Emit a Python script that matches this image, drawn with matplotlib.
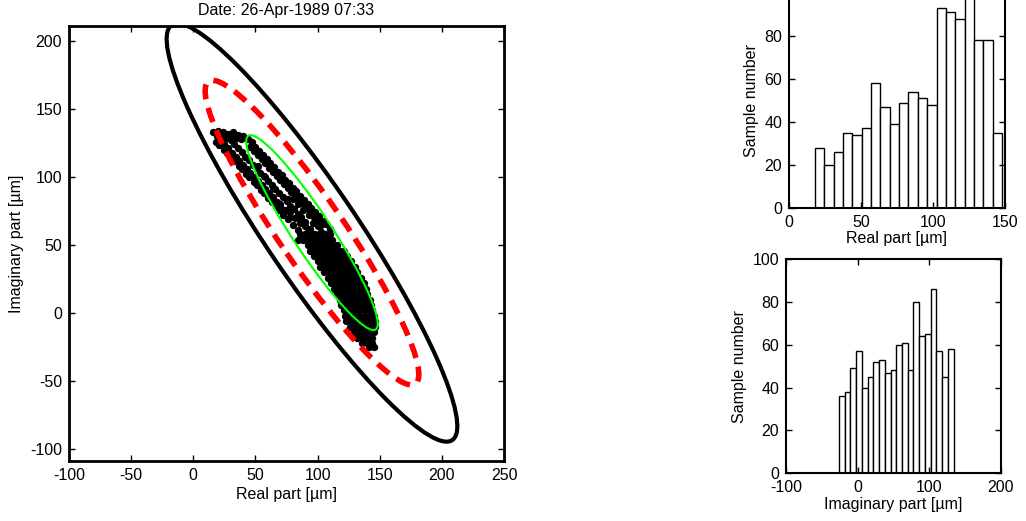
import numpy as np
import matplotlib
matplotlib.use("Agg")
import matplotlib.pyplot as plt
from matplotlib.patches import Ellipse

plt.rcParams['font.family'] = ['Liberation Sans', 'DejaVu Sans']
plt.rcParams['axes.unicode_minus'] = False
FS = 11.5

# ---------------- data ----------------
title_text = "Date: 26-Apr-1989 07:33"

# scatter cloud (real, imaginary) in micrometres
cloud_top_x = [16, 20, 24, 28, 32, 36, 40, 43, 19, 26, 34, 22, 30, 38]
cloud_top_y = [133, 134, 133, 132, 133, 131, 130, 128, 130, 129, 129, 131, 130, 128]

streak_l_x = [18, 21, 24.5, 27, 30.5, 33, 36.5, 39, 42.5, 45, 48.5, 51, 54.5, 57, 60.5, 63,
              66.5, 69, 72.5, 76, 80, 84, 88]
streak_l_y = [126, 123.5, 120, 118, 114.5, 112, 108.5, 106, 102.5, 100, 96.5, 94, 90.5, 88,
              84.5, 82, 78.5, 76, 72.5, 69, 65, 61, 57]

streak_l2_x = [22, 25, 28, 31, 34, 37, 40, 43, 46, 49, 52, 55, 58, 61, 64, 67, 70, 74, 78]
streak_l2_y = [127, 124, 121, 118, 115, 112, 109, 106, 103, 100, 97, 94, 91, 88, 85, 82, 79,
               75, 71]

streak_m_x = [30, 33, 36, 39, 42, 45, 48, 51, 54, 57, 60, 63, 66, 69, 72, 75, 78, 81, 84, 87, 90]
streak_m_y = [127, 124.5, 121, 118.5, 115, 112.5, 109, 106.5, 103, 100.5, 97, 94.5, 91, 88.5,
              85, 82.5, 79, 76.5, 73, 70.5, 67]

streak_r_x = [44, 47, 50, 53, 56, 59, 62, 65, 68, 71, 74, 77, 80, 83, 86, 89, 92, 95, 98, 101,
              104, 107, 110]
streak_r_y = [128, 125.5, 122, 119.5, 116, 113.5, 110, 107.5, 104, 101.5, 98, 95.5, 92, 89.5,
              86, 83.5, 80, 77.5, 74, 71.5, 68, 65.5, 62]

streak_r2_x = [46, 49, 52, 55, 58, 61, 64, 67, 70, 73, 76, 79, 82, 85, 88, 91, 94, 97, 100, 103]
streak_r2_y = [122, 119, 116, 113, 110, 107, 104, 101, 98, 95, 92, 89, 86, 83, 80, 77, 74, 71,
               68, 65]

fill_x = [70, 74, 78, 82, 86, 90, 94, 96, 100, 99, 93, 88, 84, 80, 86, 92, 97, 103, 76, 64, 58, 52]
fill_y = [80, 76, 74, 70, 66, 64, 62, 66, 64, 70, 72, 76, 80, 84, 70, 60, 58, 60, 84, 92, 100, 108]

dense_rows = [
    (58, [86, 90, 94, 98, 102, 106, 110]),
    (54, [84, 88, 92, 96, 100, 104, 108, 112]),
    (50, [92, 96, 100, 104, 108, 112, 116]),
    (46, [94, 98, 102, 106, 110, 114, 118, 121]),
    (42, [97, 101, 105, 109, 113, 117, 121, 124]),
    (38, [100, 104, 108, 112, 116, 120, 124, 127]),
    (34, [102, 106, 110, 114, 118, 122, 126, 130]),
    (30, [105, 109, 113, 117, 121, 125, 129, 132]),
    (26, [108, 112, 116, 120, 124, 128, 132, 135]),
    (22, [111, 115, 119, 123, 127, 131, 135, 137]),
    (18, [113, 117, 121, 125, 129, 133, 137, 139]),
    (14, [116, 120, 124, 128, 132, 136, 140]),
    (10, [118, 122, 126, 130, 134, 138, 142]),
    (6, [119, 123, 127, 131, 135, 139, 143]),
    (2, [121, 125, 129, 133, 137, 141, 144]),
    (-2, [122, 126, 130, 134, 138, 142, 145]),
    (-6, [123, 127, 131, 135, 139, 143, 146]),
    (-10, [126, 130, 134, 138, 142, 146]),
    (-14, [129, 133, 137, 141, 145]),
    (-18, [132, 136, 140, 144]),
    (-22, [136, 140, 144]),
    (-25, [141, 145]),
]

# ellipses: centre, semi-major, semi-minor, angle (deg)
ell_center = (95.5, 59.2)
ell_black = (189.7, 35.8, -53.3)
ell_red = (138.8, 25.4, -53.0)
ell_green = (87.7, 15.3, -54.1)

# histograms
real_counts = [28, 20, 26, 35, 34, 37, 58, 47, 39, 49, 54, 51, 48, 93, 91, 88, 100, 78, 78, 35]
real_range = (18.1, 148.1)
imag_counts = [36, 38, 49, 57, 40, 45, 52, 53, 47, 48, 60, 61, 48, 80, 64, 65, 86, 57, 45, 58]
imag_range = (-25.9, 134.1)

# ---------------- figure ----------------
fig = plt.figure(figsize=(10.26, 5.21), dpi=100)

def style(ax, lw):
    for s in ax.spines.values():
        s.set_linewidth(lw)
    ax.tick_params(direction='in', top=True, right=True, length=4, width=1,
                   labelsize=FS, pad=5)

ax = fig.add_axes([69/1026, 1-461/521, 435/1026, 435/521])
cx = (list(cloud_top_x) + streak_l_x + streak_l2_x + streak_m_x + streak_r_x + streak_r2_x
      + fill_x)
cy = (list(cloud_top_y) + streak_l_y + streak_l2_y + streak_m_y + streak_r_y + streak_r2_y
      + fill_y)
for yv, xs in dense_rows:
    cx += xs
    cy += [yv] * len(xs)
ax.plot(cx, cy, 'o', ms=5.3, color='black', mew=0, zorder=2)

a, b, ang = ell_black
ax.add_patch(Ellipse(ell_center, 2*a, 2*b, angle=ang, fill=False, ec='black', lw=3, zorder=3))
a, b, ang = ell_red
ax.add_patch(Ellipse(ell_center, 2*a, 2*b, angle=ang, fill=False, ec='#ff0000', lw=4,
                     linestyle=(0, (2.7, 1.6)), zorder=3))
a, b, ang = ell_green
ax.add_patch(Ellipse(ell_center, 2*a, 2*b, angle=ang, fill=False, ec='#00ff00', lw=1.5, zorder=4))

ax.set_xlim(-100, 250)
ax.set_ylim(-108.6, 211)
ax.set_xticks([-100, -50, 0, 50, 100, 150, 200, 250])
ax.set_yticks([-100, -50, 0, 50, 100, 150, 200])
style(ax, 2)
ax.set_xlabel("Real part [µm]", fontsize=FS, labelpad=3)
ax.set_ylabel("Imaginary part [µm]", fontsize=FS, labelpad=4)
ax.set_title(title_text, fontsize=FS, pad=8)

# top histogram
ax1 = fig.add_axes([789/1026, 1-208/521, 215.7/1026, 215/521])
e1 = np.linspace(real_range[0], real_range[1], len(real_counts) + 1)
ax1.bar(e1[:-1], real_counts, width=np.diff(e1), align='edge', color='white',
        edgecolor='black', linewidth=1)
ax1.set_xlim(0, 150)
ax1.set_ylim(0, 100)
ax1.set_xticks([0, 50, 100, 150])
ax1.set_yticks([0, 20, 40, 60, 80])
style(ax1, 1.5)
ax1.set_xlabel("Real part [µm]", fontsize=FS, labelpad=1)
ax1.set_ylabel("Sample number", fontsize=FS, labelpad=4)

# bottom histogram
ax2 = fig.add_axes([786/1026, 1-473.3/521, 214.7/1026, 214.3/521])
e2 = np.linspace(imag_range[0], imag_range[1], len(imag_counts) + 1)
ax2.bar(e2[:-1], imag_counts, width=np.diff(e2), align='edge', color='white',
        edgecolor='black', linewidth=1)
ax2.set_xlim(-100, 200)
ax2.set_ylim(0, 100)
ax2.set_xticks([-100, 0, 100, 200])
ax2.set_yticks([0, 20, 40, 60, 80, 100])
style(ax2, 1.5)
ax2.set_xlabel("Imaginary part [µm]", fontsize=FS, labelpad=1)
ax2.set_ylabel("Sample number", fontsize=FS, labelpad=4)

fig.savefig("out.png", dpi=100)
